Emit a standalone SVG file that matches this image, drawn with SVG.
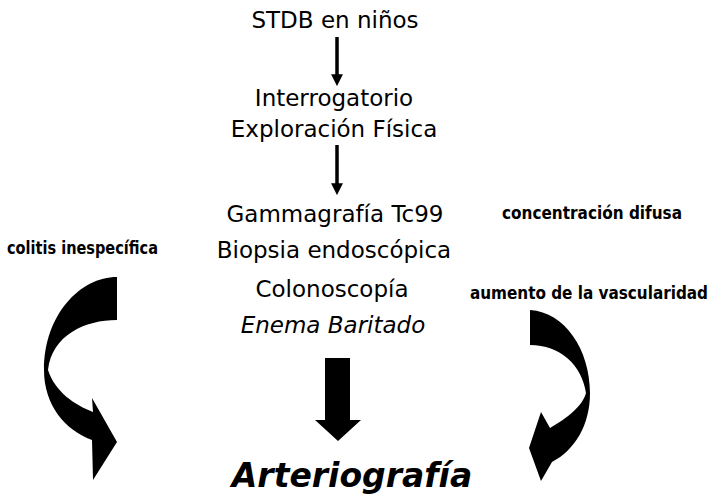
<svg xmlns="http://www.w3.org/2000/svg" width="711" height="498" viewBox="0 0 711 498">
<defs>
<style>
.t{font-family:"DejaVu Sans",Verdana,sans-serif;font-size:23px;fill:#000;text-anchor:middle}
.s{font-family:"DejaVu Sans Condensed","DejaVu Sans",sans-serif;font-size:17px;font-weight:bold;fill:#000}
.big{font-family:"DejaVu Sans",Verdana,sans-serif;font-size:33px;font-weight:bold;font-style:italic;fill:#000;text-anchor:middle}
.ln{stroke:#000;stroke-width:3.5;fill:none}
.sh{fill:#000}
</style>
<marker id="ah" markerWidth="3.4" markerHeight="3.4" refX="0.8" refY="1.7" orient="auto" markerUnits="strokeWidth">
<path d="M0,0 L3.4,1.7 L0,3.4 Z" fill="#000"/>
</marker>
</defs>
<rect width="711" height="498" fill="#fff"/>
<g id="n1"><text class="t" x="335" y="28">STDB en niños</text></g>
<g id="n2"><text class="t" x="334" y="106">Interrogatorio</text><text class="t" x="334" y="137">Exploración Física</text></g>
<g id="n3">
<text class="t" x="335" y="222">Gammagrafía Tc99</text>
<text class="t" x="334" y="258">Biopsia endoscópica</text>
<text class="t" x="332" y="297">Colonoscopía</text>
<text class="t" x="333" y="333" font-style="italic">Enema Baritado</text>
</g>
<g id="n4"><text class="big" x="352" y="487">Arteriografía</text></g>
<g id="lab1"><text class="s" x="7" y="254" textLength="151" lengthAdjust="spacingAndGlyphs">colitis inespecífica</text></g>
<g id="lab2"><text class="s" x="502" y="219" textLength="180" lengthAdjust="spacingAndGlyphs">concentración difusa</text></g>
<g id="lab3"><text class="s" x="470" y="299" textLength="238" lengthAdjust="spacingAndGlyphs">aumento de la vascularidad</text></g>
<g id="connectors">
<line class="ln" x1="337" y1="37" x2="337" y2="77" marker-end="url(#ah)"/>
<line class="ln" x1="337" y1="145" x2="337" y2="186" marker-end="url(#ah)"/>
<path class="sh" d="M325,358 L350,358 L350,420 L361,420 L338,441 L315,420 L325,420 Z"/>
<path class="sh" d="M117,277 L117,320 C85,320 52,335 48,370 C55,392 75,405 93,412 L92,398 L117,442 L93,480 L92,440 C65,430 44,405 44,370 C44,315 80,277 117,277 Z"/>
<path class="sh" d="M530,310 C565,312 590,350 590,393 C590,425 575,450 552,462 L541,481 L529,448 L541,412 L550,428 C568,418 583,405 586,393 C582,365 560,345 530,345 Z"/>
</g>
</svg>
